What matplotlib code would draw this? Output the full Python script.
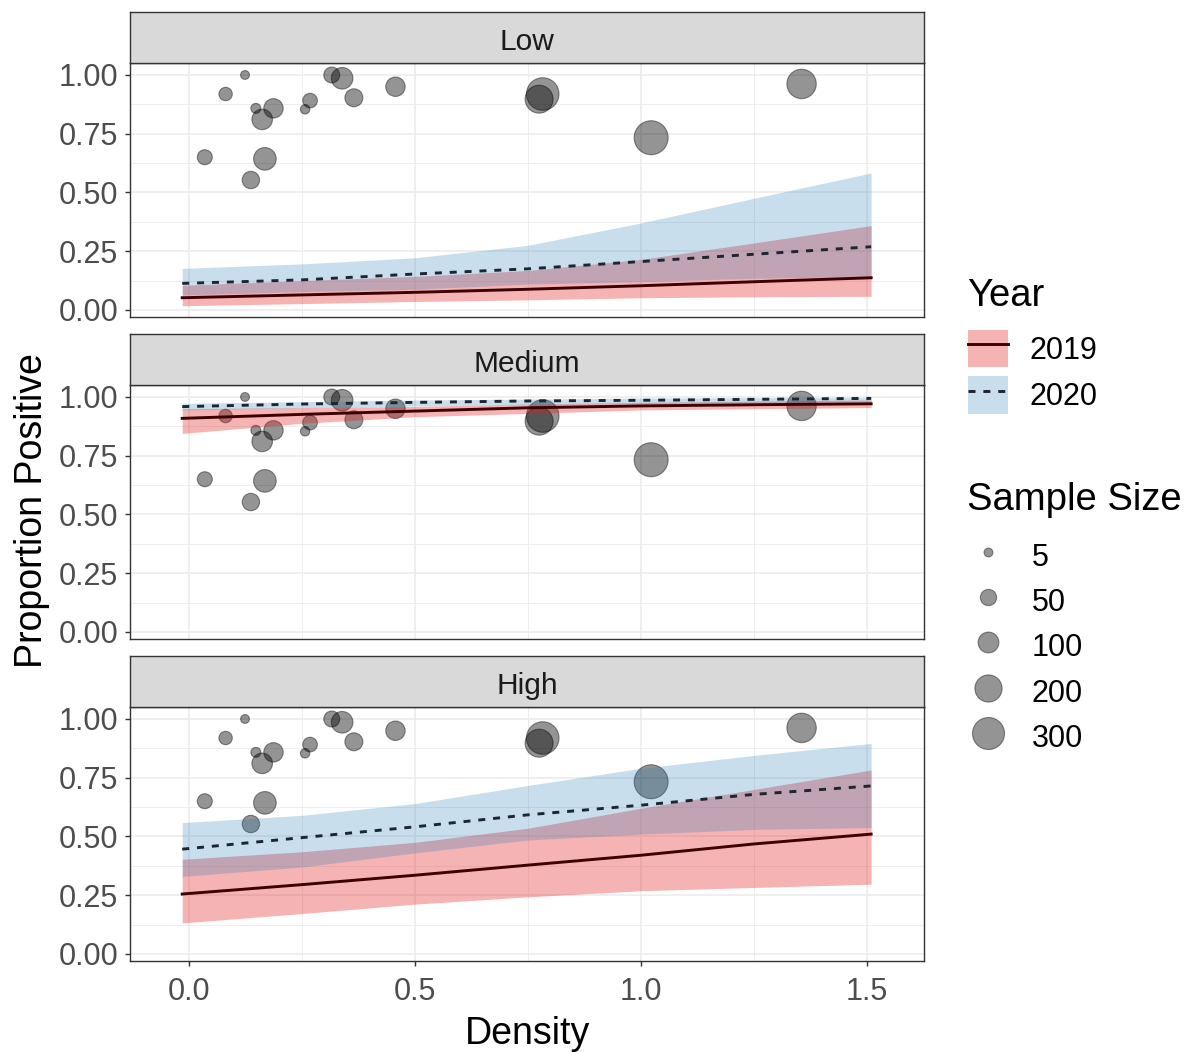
import matplotlib.pyplot as plt
import numpy as np
from matplotlib.patches import Patch
from matplotlib.lines import Line2D
from matplotlib.ticker import MultipleLocator, FormatStrFormatter

plt.rcParams['font.family'] = ['Liberation Sans', 'DejaVu Sans']

# observed data (same points in every facet)
density = [0.124, 0.081, 0.035, 0.137, 0.168, 0.162, 0.187, 0.148, 0.257,
           0.268, 0.316, 0.339, 0.365, 0.457, 0.783, 0.775, 1.023, 1.356]
prop_pos = [1.000, 0.919, 0.650, 0.553, 0.643, 0.811, 0.858, 0.858, 0.854,
            0.891, 1.000, 0.986, 0.903, 0.950, 0.919, 0.897, 0.733, 0.962]
sample_n = [5, 27, 39, 61, 125, 97, 83, 9, 7,
            36, 47, 111, 67, 83, 312, 215, 345, 243]

# model predictions
pred_x = [-0.015, 0.25, 0.5, 0.75, 1.0, 1.25, 1.51]
facets = ['Low', 'Medium', 'High']

fit19 = {'Low':    [0.052, 0.064, 0.075, 0.088, 0.103, 0.120, 0.137],
         'Medium': [0.909, 0.926, 0.940, 0.954, 0.962, 0.967, 0.971],
         'High':   [0.255, 0.295, 0.335, 0.378, 0.420, 0.468, 0.510]}
lo19 = {'Low':    [0.018, 0.027, 0.036, 0.043, 0.052, 0.056, 0.058],
        'Medium': [0.845, 0.888, 0.916, 0.930, 0.945, 0.950, 0.955],
        'High':   [0.132, 0.172, 0.212, 0.243, 0.269, 0.283, 0.297]}
hi19 = {'Low':    [0.105, 0.125, 0.143, 0.168, 0.215, 0.285, 0.359],
        'Medium': [0.950, 0.955, 0.960, 0.970, 0.977, 0.983, 0.987],
        'High':   [0.403, 0.435, 0.475, 0.535, 0.620, 0.700, 0.783]}
fit20 = {'Low':    [0.113, 0.128, 0.153, 0.175, 0.206, 0.237, 0.269],
         'Medium': [0.959, 0.970, 0.977, 0.983, 0.986, 0.990, 0.994],
         'High':   [0.446, 0.495, 0.541, 0.592, 0.633, 0.679, 0.715]}
lo20 = {'Low':    [0.064, 0.078, 0.088, 0.110, 0.120, 0.135, 0.142],
        'Medium': [0.945, 0.954, 0.962, 0.968, 0.972, 0.976, 0.980],
        'High':   [0.330, 0.370, 0.430, 0.485, 0.510, 0.530, 0.538]}
hi20 = {'Low':    [0.177, 0.196, 0.222, 0.275, 0.370, 0.475, 0.583],
        'Medium': [0.973, 0.980, 0.987, 0.991, 0.995, 0.997, 0.998],
        'High':   [0.559, 0.590, 0.640, 0.717, 0.790, 0.845, 0.896]}

legend_sizes = [5, 50, 100, 200, 300]

RED = '#E31A1C'
BLUE = '#1F78B4'
LINE19 = '#3d0000'
LINE20 = '#1b2631'
TICKC = '#4d4d4d'
BORDER = '#333333'


def marker_area(n):
    r_px = 2.7 + 0.77 * np.sqrt(np.asarray(n, dtype=float))
    return (2 * r_px * 0.72) ** 2


W, H = 1185, 1052
fig = plt.figure(figsize=(W / 100, H / 100), dpi=100)

left = 130 / W
width = 794 / W
panel_h = 254 / H
strip_h = 51 / H
bottoms_px = [317, 639, 961]

for i, f in enumerate(facets):
    b = 1 - bottoms_px[i] / H
    ax = fig.add_axes([left, b, width, panel_h])
    ax.scatter(density, prop_pos, s=marker_area(sample_n), c='black',
               alpha=0.42, edgecolors='black', linewidths=0.8, zorder=2)
    ax.fill_between(pred_x, lo19[f], hi19[f], color=RED, alpha=0.33,
                    lw=0, zorder=3)
    ax.fill_between(pred_x, lo20[f], hi20[f], color=BLUE, alpha=0.24,
                    lw=0, zorder=3)
    ax.plot(pred_x, fit19[f], color=LINE19, lw=2.1, zorder=4)
    ax.plot(pred_x, fit20[f], color=LINE20, lw=2.1, dashes=(2.4, 2.7),
            zorder=4)

    ax.set_xlim(-0.1306, 1.627)
    ax.set_ylim(-0.030, 1.051)
    ax.xaxis.set_major_locator(MultipleLocator(0.5))
    ax.xaxis.set_minor_locator(MultipleLocator(0.25))
    ax.yaxis.set_major_locator(MultipleLocator(0.25))
    ax.yaxis.set_minor_locator(MultipleLocator(0.125))
    ax.yaxis.set_major_formatter(FormatStrFormatter('%.2f'))
    ax.xaxis.set_major_formatter(FormatStrFormatter('%.1f'))
    ax.grid(which='major', color='#ebebeb', lw=1.1, zorder=0)
    ax.grid(which='minor', color='#ebebeb', lw=0.6, zorder=0)
    ax.set_axisbelow(True)
    for sp in ax.spines.values():
        sp.set_color(BORDER)
        sp.set_linewidth(1.0)
    ax.tick_params(which='minor', length=0)
    ax.tick_params(which='major', length=3.6, width=1.0, color=BORDER,
                   labelcolor=TICKC, labelsize=22, pad=5)
    if i < 2:
        ax.tick_params(axis='x', which='both', bottom=False, labelbottom=False)
    else:
        ax.tick_params(axis='x', pad=8)

    # facet strip
    sax = fig.add_axes([left, b + panel_h, width, strip_h])
    sax.set_facecolor('#d9d9d9')
    sax.set_xticks([])
    sax.set_yticks([])
    for sp in sax.spines.values():
        sp.set_color(BORDER)
        sp.set_linewidth(1.0)
    sax.text(0.5, 0.41, f, ha='center', va='center', fontsize=21.5,
             color='#1a1a1a', transform=sax.transAxes)

fig.text(527 / W, 1 - 1034 / H, 'Density', ha='center', va='center',
         fontsize=27)
fig.text(32 / W, 1 - 511 / H, 'Proportion Positive', ha='center',
         va='center', rotation=90, fontsize=27)

# Year legend
fig.text(967 / W, 1 - 306 / H, 'Year', ha='left', va='baseline',
         fontsize=27.5)
h19 = (Patch(facecolor=RED, alpha=0.33, lw=0),
       Line2D([], [], color=LINE19, lw=2.1))
h20 = (Patch(facecolor=BLUE, alpha=0.24, lw=0),
       Line2D([], [], color=LINE20, lw=2.1, dashes=(2.4, 2.7)))
fig.legend([h19, h20], ['2019', '2020'], loc='upper left',
           bbox_to_anchor=(968 / W, 1 - 330 / H), frameon=False,
           fontsize=22, borderpad=0, borderaxespad=0,
           handlelength=1.3, handleheight=1.5, handletextpad=0.72,
           labelspacing=0.3)

# Sample size legend
fig.text(967 / W, 1 - 510 / H, 'Sample Size', ha='left', va='baseline',
         fontsize=27.5)
size_handles = [plt.scatter([], [], s=marker_area(n), c='black', alpha=0.42,
                            edgecolors='black', linewidths=0.8)
                for n in legend_sizes]
fig.legend(size_handles, [str(n) for n in legend_sizes],
           loc='upper left', bbox_to_anchor=(968 / W, 1 - 537 / H),
           frameon=False, fontsize=22, borderpad=0, borderaxespad=0,
           handlelength=1.3, handleheight=1.5, handletextpad=0.78,
           labelspacing=0.265, scatterpoints=1)

fig.savefig('out.png', dpi=100)
